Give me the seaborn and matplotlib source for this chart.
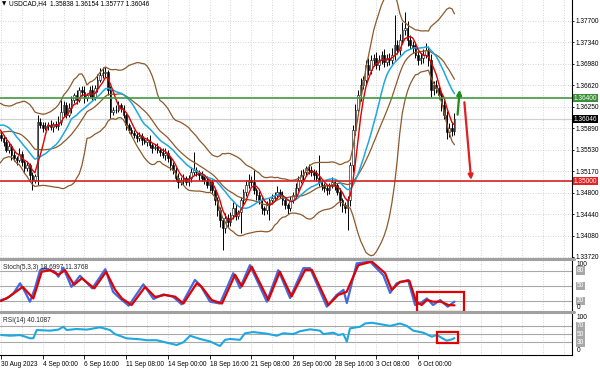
import numpy as np
import pandas as pd
import matplotlib
matplotlib.use("Agg")
import matplotlib.pyplot as plt
import matplotlib.transforms as mtransforms
from matplotlib.lines import Line2D
from matplotlib.patches import Rectangle
import seaborn as sns

# ---- USDCAD H4, values ----
# closes before the first visible bar (only needed so the bands start at the left edge)
warmup_closes = [1.3540, 1.3535, 1.3545, 1.3552, 1.3548, 1.3560, 1.3570, 1.3565, 1.3580, 1.3595,
                 1.3605, 1.3612, 1.3620, 1.3615, 1.3608, 1.3600, 1.3596, 1.3590, 1.3584, 1.3578]

# closes, 30 Aug 2023 08:00 -> 10 Oct 2023 08:00
closes = [1.3573, 1.3566, 1.3553, 1.3559, 1.3544, 1.3539, 1.3536, 1.3546, 1.3532, 1.3522,
          1.3527, 1.3510, 1.3502, 1.3509, 1.3600, 1.3595, 1.3590, 1.3593, 1.3595, 1.3591,
          1.3596, 1.3593, 1.3600, 1.3617, 1.3628, 1.3612, 1.3623, 1.3637, 1.3645, 1.3637,
          1.3654, 1.3650, 1.3640, 1.3645, 1.3654, 1.3642, 1.3657, 1.3671, 1.3679, 1.3682,
          1.3684, 1.3654, 1.3617, 1.3620, 1.3620, 1.3628, 1.3623, 1.3612, 1.3595, 1.3586,
          1.3581, 1.3578, 1.3573, 1.3576, 1.3569, 1.3566, 1.3569, 1.3561, 1.3556, 1.3558,
          1.3553, 1.3549, 1.3544, 1.3547, 1.3539, 1.3527, 1.3519, 1.3505, 1.3499, 1.3502,
          1.3505, 1.3499, 1.3505, 1.3515, 1.3519, 1.3515, 1.3510, 1.3505, 1.3502, 1.3493,
          1.3499, 1.3485, 1.3468, 1.3451, 1.3434, 1.3421, 1.3438, 1.3431, 1.3443, 1.3455,
          1.3441, 1.3448, 1.3468, 1.3482, 1.3493, 1.3502, 1.3499, 1.3485, 1.3477, 1.3468,
          1.3455, 1.3451, 1.3460, 1.3468, 1.3472, 1.3477, 1.3482, 1.3477, 1.3468, 1.3460,
          1.3455, 1.3468, 1.3477, 1.3488, 1.3502, 1.3510, 1.3515, 1.3522, 1.3519, 1.3515,
          1.3510, 1.3505, 1.3499, 1.3493, 1.3488, 1.3485, 1.3493, 1.3499, 1.3493, 1.3482,
          1.3468, 1.3460, 1.3455, 1.3468, 1.3527, 1.3586, 1.3620, 1.3645, 1.3662, 1.3671,
          1.3696, 1.3687, 1.3704, 1.3708, 1.3696, 1.3704, 1.3713, 1.3701, 1.3708, 1.3704,
          1.3713, 1.3730, 1.3721, 1.3738, 1.3755, 1.3758, 1.3738, 1.3730, 1.3725, 1.3713,
          1.3704, 1.3708, 1.3713, 1.3721, 1.3704, 1.3654, 1.3662, 1.3657, 1.3645, 1.3628,
          1.3612, 1.3583, 1.3590, 1.35838, 1.36046]

# wick lengths above / below the body, in pips
hi_wick = [6, 4, 8, 5, 3, 7, 4, 9, 5, 3, 6, 4, 5, 3, 12, 6, 4, 7, 5, 8, 4, 6, 9, 20, 7,
           5, 8, 6, 4, 9, 5, 7, 10, 4, 6, 8, 5, 9, 12, 10, 8, 4, 6, 5, 9, 7, 4, 6, 5, 3,
           6, 5, 4, 7, 5, 3, 6, 8, 4, 5, 7, 4, 6, 9, 5, 3, 6, 4, 8, 5, 7, 4, 6, 9, 30,
           5, 4, 7, 3, 6, 5, 4, 3, 6, 5, 4, 8, 6, 5, 9, 7, 4, 6, 5, 8, 10, 7, 20, 4, 6,
           5, 3, 6, 4, 7, 5, 9, 4, 6, 5, 3, 7, 5, 8, 6, 9, 5, 4, 7, 6, 5, 8, 39, 5, 4,
           6, 4, 8, 5, 3, 6, 4, 5, 7, 6, 8, 10, 9, 12, 7, 8, 11, 9, 6, 10, 8, 7, 9, 6, 8,
           12, 50, 8, 10, 14, 27, 12, 9, 7, 10, 6, 8, 9, 12, 7, 10, 6, 8, 5, 7, 9, 6, 8, 10, 10.8]
lo_wick = [5, 7, 4, 6, 8, 5, 9, 4, 6, 7, 5, 8, 17, 6, 15, 5, 7, 4, 6, 5, 8, 4, 6, 5, 7,
           6, 4, 8, 5, 7, 4, 6, 9, 5, 4, 7, 5, 6, 4, 5, 7, 8, 10, 6, 5, 4, 7, 6, 8, 5,
           4, 6, 7, 5, 8, 4, 6, 5, 9, 4, 6, 7, 5, 8, 6, 9, 7, 5, 10, 6, 8, 5, 7, 6, 4,
           6, 8, 5, 7, 4, 9, 6, 8, 10, 12, 37, 8, 9, 6, 7, 7, 5, 35, 6, 7, 5, 8, 6, 9, 7,
           10, 8, 6, 25, 7, 5, 8, 6, 9, 7, 10, 6, 5, 7, 4, 6, 8, 5, 7, 6, 9, 5, 7, 8, 6,
           9, 7, 5, 8, 6, 10, 12, 9, 37, 10, 12, 9, 8, 10, 7, 9, 8, 6, 10, 7, 8, 6, 9, 7, 8,
           6, 8, 7, 9, 6, 8, 10, 7, 9, 6, 8, 7, 9, 6, 10, 12, 8, 9, 7, 10, 8, 12, 9, 8, 6.1]

# Stochastic(5,3,3): main (%K) and signal (%D), read at their turning points
stoch_k_bar = [0, 2.2, 4.7, 7.3, 9.2, 11.1, 13, 15, 16.9, 20.7, 22, 23.9, 27, 30.3, 35,
               40, 43, 45.7, 49, 54.6, 58.5, 62.3, 66, 69.3, 74.4, 76.4, 80.2, 84, 89.1, 91.7,
               95.5, 102, 106.4, 110.9, 116, 118.6, 125, 128.8, 131.4, 132.7, 136.5, 141.6,
               146.7, 149.3, 151.8, 156.2, 158.9, 160.8, 163.4, 165.8, 168.5, 171.4, 174]
stoch_k = [22, 25, 35, 55, 38, 18.6, 45, 81, 84.7, 78, 68, 86, 48, 70, 45,
           83, 38, 25, 10.7, 53, 24, 33, 28.5, 13.4, 61.6, 51.7, 18.6, 15, 75, 45.7,
           91, 18.6, 81, 26, 85, 85, 8.7, 32, 42, 16, 94.6, 98,
           71, 36, 55, 61.6, 12, 15, 25, 12, 22, 8.7, 18.7]
stoch_d_bar = [0, 3, 8.3, 12.4, 15.6, 18.8, 22, 24.6, 28, 31, 35.8, 40.3, 43.8, 46.4, 50.1,
               55.3, 59.1, 62.9, 66.8, 70, 75.1, 77, 80.8, 84.8, 89.8, 92.4, 96.2, 102.6, 107,
               111.5, 116.7, 119.3, 125.6, 129.4, 132.6, 137.1, 142.3, 147.4, 149.9, 153.1,
               156.7, 159.3, 161.4, 163.4, 165.8, 168.8, 171.7, 174]
stoch_d = [20, 28, 48, 25, 78, 81, 72, 81, 52, 65, 45, 78, 42, 25, 12,
           48, 28, 32, 28.5, 15, 55, 48, 22, 15, 72, 49, 88, 22, 78,
           29, 81.5, 81.5, 12, 32, 38, 91, 98, 75, 42, 58,
           60, 18.6, 12, 22, 18.6, 18.6, 12, 11.4]

# RSI(14)
rsi_bar = [0, 3.5, 7.3, 9.2, 11.1, 12.4, 13.7, 18.8, 22, 23.9, 25.2, 29, 32.9, 38, 41.8,
           43.7, 48.2, 53.3, 55.9, 59.7, 63.6, 67.4, 70, 72.5, 76.4, 80.2, 84, 86, 87.9, 91.7,
           93.6, 96.8, 102, 105.8, 108.3, 112.2, 114.7, 118.6, 122.4, 123.7, 127.5, 129.4,
           131.4, 132.7, 133.9, 137.8, 139.7, 142.3, 145.4, 149.3, 153.1, 155.7, 158.2, 162,
           165.3, 167.2, 171, 173, 174]
rsi = [47.8, 46, 47.5, 44, 39.6, 40, 60, 58.4, 61, 68, 60, 62.5, 61, 66.6, 60,
       50, 39.6, 37.3, 35, 35, 29, 23.3, 30, 46, 38, 32, 20.8, 36, 38, 36,
       52, 55, 51, 46, 52, 50, 57, 61.7, 58.4, 50, 53.5, 47.8,
       50, 31.5, 64, 68, 76, 77.8, 74.5, 70, 76, 70, 58.4, 53.5,
       43.7, 47.8, 33.9, 37, 40.1]

price_ticks = [1.37700, 1.37340, 1.36980, 1.36620, 1.36250, 1.35890, 1.35530,
               1.35170, 1.34800, 1.34440, 1.34080, 1.33720]
date_bars = [0, 16, 32, 48, 64, 80, 96, 112, 128, 144, 160]
date_labels = ["30 Aug 2023", "4 Sep 00:00", "6 Sep 16:00", "11 Sep 08:00", "14 Sep 00:00",
               "18 Sep 16:00", "21 Sep 08:00", "26 Sep 00:00", "28 Sep 16:00",
               "3 Oct 08:00", "6 Oct 00:00"]
resistance = 1.36400
support = 1.35000
last_price = 1.36046
# hand drawn arrows: (bar from, price from, bar to, price to)
arrow_up = (175.2, 1.3612, 176.0, 1.3654)
arrow_down = (177.8, 1.3633, 180.4, 1.3502)

# ---- indicators on the price chart ----
n_pre = len(warmup_closes)
allc = pd.Series(warmup_closes + closes)
ind = pd.DataFrame({"bar": np.arange(len(allc)) - n_pre, "close": allc})
ind["ma_fast"] = allc.rolling(5).mean()
ind["ma_slow"] = allc.rolling(14).mean()
ind["bb_mid"] = allc.rolling(20).mean()
sd = allc.rolling(20).std(ddof=0)
ind["bb_up"] = ind["bb_mid"] + 2 * sd
ind["bb_lo"] = ind["bb_mid"] - 2 * sd
ind = ind.dropna()

c = np.array(closes)
o = np.r_[warmup_closes[-1], c[:-1]]
bars = np.arange(len(c))
hi = np.maximum(o, c) + np.array(hi_wick) * 1e-4
lo = np.minimum(o, c) - np.array(lo_wick) * 1e-4

# ---- figure ----
sns.set_theme(style="white")
plt.rcParams["font.family"] = ["Liberation Sans", "DejaVu Sans"]
fs = 4.7
W, H = 600, 369
fig = plt.figure(figsize=(6, 3.69), dpi=100)
fig.patch.set_facecolor("white")

ax = fig.add_axes([0, 1 - 258 / H, 572 / W, 258 / H])
ax_st = fig.add_axes([0, 1 - 312 / H, 572 / W, 52 / H])
ax_rsi = fig.add_axes([0, 1 - 354.5 / H, 572 / W, 41.5 / H])

xlim = (-0.4, 219.1)
grid_c = "#c8c8c8"
for a in (ax, ax_st, ax_rsi):
    a.set_xlim(*xlim)
    a.set_facecolor("white")
    for s in ("top", "left", "bottom"):
        a.spines[s].set_visible(False)
    a.spines["right"].set_color("black")
    a.spines["right"].set_linewidth(0.8)
    for b in range(0, 220, 8):
        a.axvline(b, color=grid_c, lw=0.6, ls=(0, (1, 2)), zorder=0)
    a.set_xticks([])

# main price panel
ax.set_ylim(1.33703, 1.38054)
for p in price_ticks:
    ax.axhline(p, color=grid_c, lw=0.6, ls=(0, (1, 2)), zorder=0)
ax.axhline(last_price, color="#d0d0d0", lw=0.9, zorder=1)

ax.vlines(bars, lo, hi, color="black", lw=0.7, zorder=2)
up = c >= o
body = np.maximum(np.abs(c - o), 0.00004)
ax.bar(bars[up], body[up], bottom=o[up], width=0.62, color="white",
       edgecolor="black", linewidth=0.4, zorder=3)
ax.bar(bars[~up], body[~up], bottom=c[~up], width=0.62, color="black",
       edgecolor="black", linewidth=0.4, zorder=3)

brown = "#8c5a2d"
for col in ("bb_up", "bb_mid", "bb_lo"):
    sns.lineplot(data=ind, x="bar", y=col, ax=ax, color=brown, lw=0.9,
                 estimator=None, legend=False, zorder=4)
sns.lineplot(data=ind, x="bar", y="ma_slow", ax=ax, color="#1fa8e0", lw=1.1,
             estimator=None, legend=False, zorder=5)
sns.lineplot(data=ind, x="bar", y="ma_fast", ax=ax, color="#e00000", lw=1.0,
             estimator=None, legend=False, zorder=6)

ax.axhline(resistance, color="#3f9a3f", lw=1.2, zorder=7)
ax.axhline(support, color="#d42020", lw=1.2, zorder=7)

ax.annotate("", xy=arrow_up[2:], xytext=arrow_up[:2],
            arrowprops=dict(arrowstyle="-|>", color="#1e8c1e", lw=1.6, mutation_scale=7,
                            shrinkA=0, shrinkB=0), zorder=8)
ax.annotate("", xy=arrow_down[2:], xytext=arrow_down[:2],
            arrowprops=dict(arrowstyle="-|>", color="#e02020", lw=1.6, mutation_scale=7,
                            shrinkA=0, shrinkB=0), zorder=8)

ax.yaxis.tick_right()
ax.set_yticks(price_ticks)
ax.set_yticklabels([f"{p:.5f}" for p in price_ticks])
ax.tick_params(axis="y", labelsize=fs, length=1.5, width=0.6, pad=1, colors="black")
ax.set_ylabel("")
ax.set_xlabel("")

trans = mtransforms.blended_transform_factory(ax.transAxes, ax.transData)
for val, bg in ((resistance, "#3a8f3a"), (last_price, "black"), (support, "#e52222")):
    ax.text(1.003, val, f"{val:.5f}", transform=trans, ha="left", va="center",
            fontsize=fs, color="white", zorder=10, clip_on=False,
            bbox=dict(boxstyle="square,pad=0.12", fc=bg, ec="none"))

ax.text(0.004, 0.987, "\u25bc", transform=ax.transAxes, fontsize=4, ha="left", va="center",
        family="DejaVu Sans", color="black")
ax.text(0.016, 0.987, "USDCAD,H4  1.35838 1.36154 1.35777 1.36046", transform=ax.transAxes,
        fontsize=fs, ha="left", va="center", color="black")

# stochastic panel
ax_st.set_ylim(-1.8, 101.2)
for lv in (80, 50, 20):
    ax_st.axhline(lv, color="#a8a8a8", lw=0.8, zorder=1)
st_df = pd.DataFrame({"bar": stoch_k_bar, "k": stoch_k})
sd_df = pd.DataFrame({"bar": stoch_d_bar, "d": stoch_d})
sns.lineplot(data=st_df, x="bar", y="k", ax=ax_st, color="#4169e1", lw=1.6,
             estimator=None, legend=False, zorder=3)
sns.lineplot(data=sd_df, x="bar", y="d", ax=ax_st, color="#e00000", lw=1.6,
             estimator=None, legend=False, zorder=4)
ax_st.set_yticks([])
ax_st.set_ylabel("")
ax_st.set_xlabel("")
ax_st.text(0.005, 0.93, "Stoch(5,3,3) 18.6997 11.3768", transform=ax_st.transAxes,
           fontsize=fs, ha="left", va="top")
ax_st.add_patch(Rectangle((159.8, -2), 17.9, 40.4, fill=False, ec="#e00000", lw=1.6,
                          clip_on=False, zorder=9))

# RSI panel
ax_rsi.set_ylim(0, 101.7)
for lv in (70, 50, 30):
    ax_rsi.axhline(lv, color="#a8a8a8", lw=0.8, zorder=1)
rsi_df = pd.DataFrame({"bar": rsi_bar, "rsi": rsi})
sns.lineplot(data=rsi_df, x="bar", y="rsi", ax=ax_rsi, color="#1fa8e0", lw=1.5,
             estimator=None, legend=False, zorder=3)
ax_rsi.set_yticks([])
ax_rsi.set_ylabel("")
ax_rsi.set_xlabel("")
ax_rsi.text(0.005, 0.9, "RSI(14) 40.1087", transform=ax_rsi.transAxes,
            fontsize=fs, ha="left", va="top")
ax_rsi.add_patch(Rectangle((167.4, 27.5), 8.1, 28.4, fill=False, ec="#e00000", lw=1.6,
                           clip_on=False, zorder=9))
ax_rsi.spines["bottom"].set_visible(True)
ax_rsi.spines["bottom"].set_color("black")
ax_rsi.spines["bottom"].set_linewidth(0.8)
ax_rsi.set_xticks(date_bars)
ax_rsi.set_xticklabels(date_labels)
ax_rsi.tick_params(axis="x", labelsize=fs, length=3, width=0.6, pad=1.5, colors="black",
                   bottom=True)
for lab in ax_rsi.get_xticklabels():
    lab.set_ha("left")

# level labels on the right of the oscillators
for a, levels, boxed in ((ax_st, (100, 80, 50, 20, 0), (80, 50, 20)),
                         (ax_rsi, (100, 70, 50, 30, 0), (70, 50, 30))):
    tr = mtransforms.blended_transform_factory(a.transAxes, a.transData)
    for lv in levels:
        va = "top" if lv == 100 else ("bottom" if lv == 0 else "center")
        kw = dict(transform=tr, ha="left", va=va, fontsize=fs, clip_on=False)
        if lv in boxed:
            a.text(1.008, lv, str(lv), color="white",
                   bbox=dict(boxstyle="square,pad=0.12", fc="#a8a8a8", ec="none"), **kw)
        else:
            a.text(1.008, lv, str(lv), color="black", **kw)

# panel separators
for yy in (259, 312.3):
    fig.add_artist(Line2D([0, 574 / W], [1 - yy / H, 1 - yy / H], transform=fig.transFigure,
                          color="#a0a0a0", lw=2.2))

fig.savefig("out.png", dpi=100)
